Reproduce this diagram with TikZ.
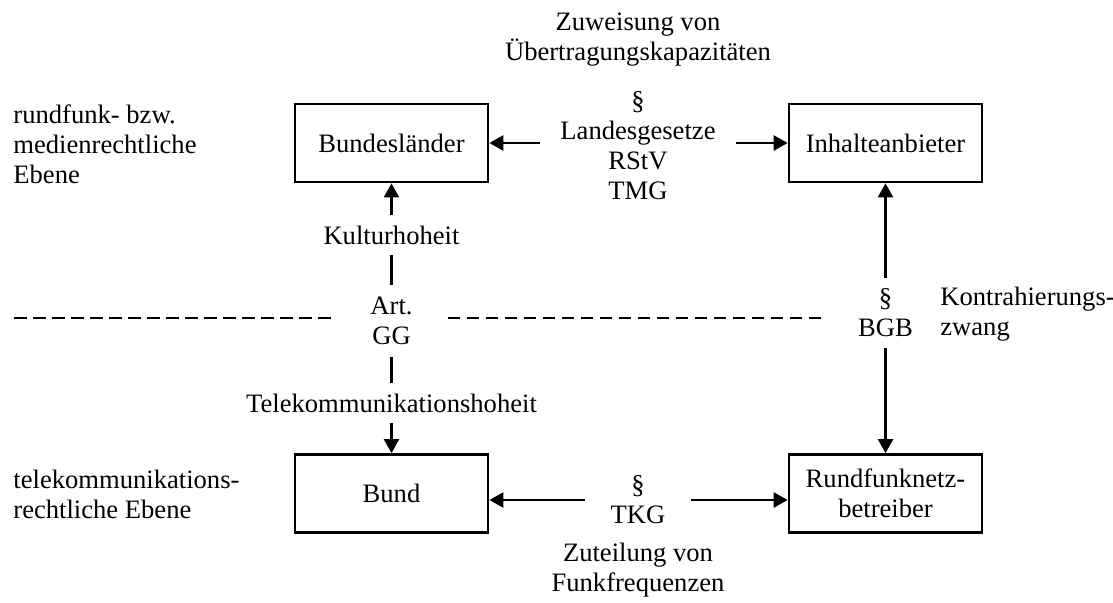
\documentclass[tikz,border=0pt]{standalone}
\usepackage{fontspec}
\setmainfont{Liberation Serif}
\usetikzlibrary{arrows.meta}
\begin{document}
\begin{tikzpicture}[x=0.5pt,y=-0.5pt,
  every node/.style={font=\fontsize{13.3pt}{15pt}\selectfont, inner sep=0pt},
  box/.style={draw, line width=1.35pt, minimum width=96.5pt, minimum height=39pt, align=center},
  lbl/.style={align=center},
  conn/.style={line width=1.2pt},
  arr/.style={conn, -{Triangle[length=7pt,width=7.5pt]}},
  level/.style={line width=1.35pt, dash pattern=on 6.25pt off 3.25pt}]
\useasboundingbox (0,0) rectangle (1113,602);

% actors
\node[box] (bl)   at (391.5,143)   {Bundesländer};
\node[box] (inh)  at (885.5,143)   {Inhalteanbieter};
\node[box] (bund) at (391.5,493.5) {Bund};
\node[box] (rnb)  at (885.5,493.5) {Rundfunknetz-\\betreiber};

% legal bases between the actors
\node[lbl] (zuw) at (638,40) {Zuweisung von\\Übertragungskapazitäten};
\node[lbl, minimum width=98pt] (law) at (638,146) {§\\Landesgesetze\\RStV\\TMG};
\node[lbl, minimum width=52.5pt] (tkg) at (638,500) {§\\TKG};
\node[lbl] (zut) at (638,570) {Zuteilung von\\Funkfrequenzen};

\node[lbl, minimum height=20pt] (kult) at (391.5,235) {Kulturhoheit};
\node[lbl, minimum width=56pt, minimum height=36pt] (art) at (391.5,321) {Art.\\GG};
\node[lbl, minimum height=20pt] (tele) at (391.5,403) {Telekommunikationshoheit};
\node[lbl, minimum height=35pt] (bgb) at (885.5,313) {§\\BGB};
\node[align=left, anchor=west] (kz) at (940,314) {Kontrahierungs-\\zwang};

% levels
\node[align=left, anchor=west] (med) at (13,144) {rundfunk- bzw.\\medienrechtliche\\Ebene};
\node[align=left, anchor=west] (tk)  at (13,494) {telekommunikations-\\rechtliche Ebene};

\coordinate (dl) at (14,318);
\coordinate (dr) at (825,318);
\draw[level] (dl) -- (dl -| art.west);
\draw[level] (art.east |- dr) -- (dr);

% connectors
\draw[arr] (law.west |- bl.east) -- (bl.east);
\draw[arr] (law.east |- inh.west) -- (inh.west);
\draw[arr] (tkg.west) -- (tkg.west -| bund.east);
\draw[arr] (tkg.east) -- (tkg.east -| rnb.west);
\draw[arr] (kult.north) -- (bl.south);
\draw[conn] (kult.south) -- (art.north);
\draw[conn] (art.south) -- (tele.north);
\draw[arr] (tele.south) -- (bund.north);
\draw[arr] (bgb.north) -- (inh.south);
\draw[arr] (bgb.south) -- (rnb.north);
\end{tikzpicture}
\end{document}
